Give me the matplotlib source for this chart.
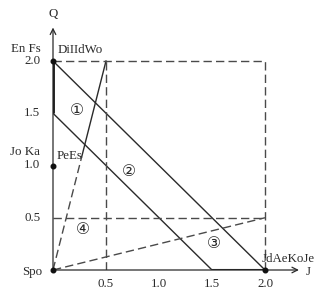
import matplotlib
matplotlib.use("Agg")
import matplotlib.pyplot as plt

# ---- data ----
x_ticks = [0.5, 1.0, 1.5, 2.0]
y_ticks = [0.5, 1.0, 1.5, 2.0]
x_tick_labels = ["0.5", "1.0", "1.5", "2.0"]
y_tick_labels = ["0.5", "1.0", "1.5", "2.0"]
line1_x = [0, 2.0]; line1_y = [2.0, 0]          # solid outer
line2_x = [0, 1.5]; line2_y = [1.5, 0]          # solid inner
steep_dash_x = [0, 0.27]; steep_dash_y = [0, 1.08]
steep_solid_x = [0.27, 0.5]; steep_solid_y = [1.08, 2.0]
shallow_x = [0, 2.0]; shallow_y = [0, 0.5]
hline_x = [0, 2.0]; hline_y = [0.5, 0.5]
vline_x = [0.5, 0.5]; vline_y = [0, 2.0]
top_x = [0, 2.0]; top_y = [2.0, 2.0]
right_x = [2.0, 2.0]; right_y = [0, 2.0]
thick_y_x = [0, 0]; thick_y_y = [1.5, 2.0]
thick_x_x = [1.5, 2.0]; thick_x_y = [0, 0]
dots_x = [0, 0, 0, 2.0]; dots_y = [2.0, 1.0, 0, 0]
regions = ["①", "②", "③", "④"]
region_x = [0.23, 0.72, 1.52, 0.28]
region_y = [1.53, 0.94, 0.25, 0.39]

serif = ["Liberation Serif", "DejaVu Serif"]
circ = ["DejaVu Sans"]
fs = 9.3

fig = plt.figure(figsize=(3.30, 3.01), dpi=100)
W, H = 330, 301
ox, oy = 53, 270
ux, uy = 106, 104.5
xmax, ymax = 2.5, 2.5
ax = fig.add_axes([ox / W, (H - oy) / H, xmax * ux / W, ymax * uy / H])
ax.set_xlim(0, xmax)
ax.set_ylim(0, ymax)
ax.axis("off")

c = "#2a2a2a"
dc = "#4a4a4a"
lw = 1.0

# axes with arrows
ax.annotate("", xy=(2.32, 0), xytext=(0, 0),
            arrowprops=dict(arrowstyle="->", color=c, lw=0.9, shrinkA=0, shrinkB=0))
ax.annotate("", xy=(0, 2.32), xytext=(0, 0),
            arrowprops=dict(arrowstyle="->", color=c, lw=0.9, shrinkA=0, shrinkB=0))
ax.text(2.38, -0.02, "J", fontsize=fs, family=serif, ha="left", va="center", color=c)
ax.text(0.0, 2.39, "Q", fontsize=fs, family=serif, ha="center", va="bottom", color=c)

ax.plot(thick_y_x, thick_y_y, color="#111111", lw=2.0, solid_capstyle="butt")
ax.plot(thick_x_x, thick_x_y, color="#222222", lw=1.5, solid_capstyle="butt")

ax.plot(line1_x, line1_y, color=c, lw=lw)
ax.plot(line2_x, line2_y, color=c, lw=lw)
ax.plot(steep_solid_x, steep_solid_y, color=c, lw=lw)

dash = (6, 3)
for xs, ys in [(steep_dash_x, steep_dash_y), (shallow_x, shallow_y),
               (hline_x, hline_y), (vline_x, vline_y),
               (top_x, top_y), (right_x, right_y)]:
    ax.plot(xs, ys, color=dc, lw=lw, dashes=dash)

ax.plot(dots_x, dots_y, "o", color="#111111", ms=3.3, clip_on=False, zorder=5)

for t, l in zip(x_ticks, x_tick_labels):
    ax.text(t, -0.08, l, fontsize=fs, family=serif, ha="center", va="top", color=c)
for t, l in zip(y_ticks, y_tick_labels):
    ax.text(-0.12, t, l, fontsize=fs, family=serif, ha="right", va="center", color=c)

ax.text(-0.12, 2.06, "En Fs", fontsize=fs, family=serif, ha="right", va="bottom", color=c)
ax.text(0.04, 2.05, "DiIIdWo", fontsize=fs, family=serif, ha="left", va="bottom", color=c)
ax.text(-0.12, 1.07, "Jo Ka", fontsize=fs, family=serif, ha="right", va="bottom", color=c)
ax.text(0.03, 1.03, "PeEs", fontsize=fs, family=serif, ha="left", va="bottom", color=c)
ax.text(-0.10, -0.02, "Spo", fontsize=fs, family=serif, ha="right", va="center", color=c)
ax.text(1.97, 0.05, "JdAeKoJe", fontsize=fs, family=serif, ha="left", va="bottom", color=c)

for t, xx, yy in zip(regions, region_x, region_y):
    ax.text(xx, yy, t, fontsize=fs + 2, family=circ, ha="center", va="center", color=c)

fig.savefig("out.png", dpi=100, facecolor="white")
